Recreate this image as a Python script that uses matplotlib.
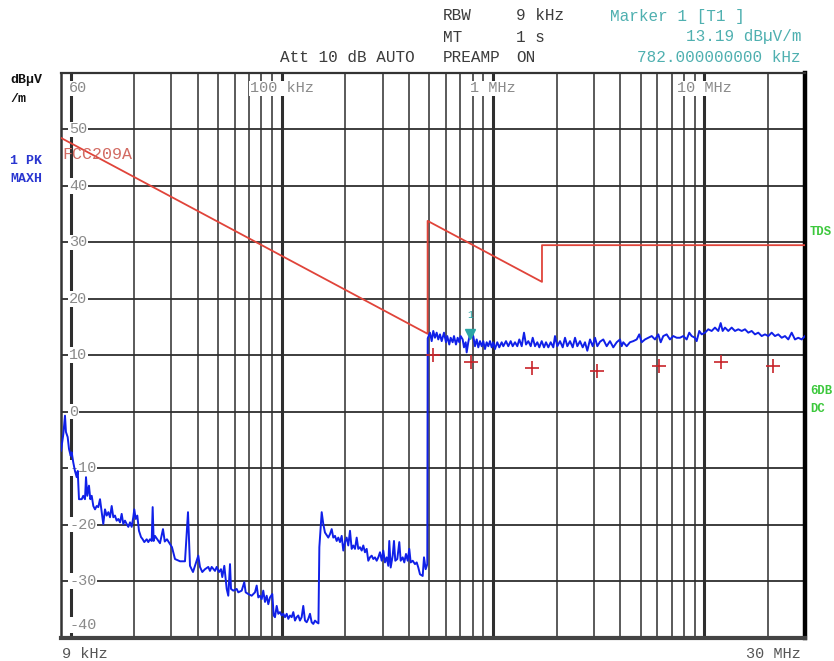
import matplotlib
matplotlib.use("Agg")
import matplotlib.pyplot as plt
import matplotlib.transforms as mtransforms

plt.rcParams['font.family'] = ['Liberation Mono', 'DejaVu Sans Mono']

# 1 PK MAXH trace (kHz, dBuV/m)
band1_khz = [9.00, 9.23, 9.40, 9.50, 9.68, 9.82, 10.00, 10.11, 10.29, 10.48, 10.68, 10.80,
             10.95, 11.28, 11.47, 11.69, 11.82, 11.99, 12.21, 12.39, 12.58, 12.80, 13.04,
             13.28, 13.51, 13.77, 14.03, 14.27, 14.54, 14.81, 15.08, 15.36, 15.64, 15.92,
             16.21, 16.51, 16.81, 17.13, 17.44, 17.75, 18.08, 18.42, 18.75, 19.10, 19.45,
             19.79, 20.01, 20.32, 20.68, 21.06, 21.53, 21.93, 22.32, 22.91, 23.31, 23.75,
             24.19, 24.45, 24.72, 25.07, 26.48, 27.36, 27.9, 28.58, 30.18, 31.19, 32.94,
             34.78, 35.94, 36.73, 37.95, 38.79, 40.21, 40.96, 42.00, 43.25, 44.84, 45.67,
             46.53, 48.24, 49.13, 50.39, 51.50, 52.23, 53.39, 54.81, 55.76, 56.82, 57.44,
             58.88, 61.11, 62.19, 64.54, 66.39, 67.41, 69.34, 71.96, 74.60, 76.00, 77.34,
             78.78, 80.26, 81.66, 83.20, 84.75, 86.25, 87.87, 90.10, 91.48, 92.78, 94.52,
             96.19, 97.97, 99.82, 101.6, 103.5, 105.4, 107.3, 109.3, 111.3, 113.3, 115.4,
             117.5, 119.6, 121.8, 124.1, 126.3, 128.7, 131.1, 133.4, 135.9, 138.4, 140.9,
             143.5, 146.2, 149.0]
band1_db = [-6.9, -4.0, -0.7, -3.6, -4.5, -6.6, -7.8, -7.2, -9.0, -10.5, -11.6, -10.5,
            -15.5, -15.5, -14.9, -15.5, -11.6, -14.9, -13.1, -15.5, -14.9, -16.7, -17.3,
            -16.7, -16.9, -15.5, -17.8, -19.9, -17.3, -18.4, -17.8, -18.7, -16.7, -18.7,
            -18.4, -19.3, -19.0, -19.6, -18.1, -19.9, -19.3, -19.9, -20.4, -19.6, -20.4,
            -18.7, -17.3, -19.0, -18.4, -21.1, -22.2, -22.6, -23.1, -22.6, -23.1, -22.6,
            -22.9, -16.9, -22.9, -22.0, -23.3, -20.8, -23.0, -22.6, -24.0, -26.1, -26.5,
            -26.5, -17.8, -27.3, -28.4, -27.3, -25.5, -27.5, -28.4, -27.9, -27.5, -28.2,
            -27.5, -28.2, -27.5, -28.4, -27.9, -29.3, -27.3, -31.4, -32.6, -27.0, -31.4,
            -31.7, -31.4, -32.0, -31.7, -30.2, -32.0, -32.3, -32.6, -32.0, -30.8, -32.9,
            -32.6, -33.2, -31.7, -33.7, -32.6, -34.1, -32.9, -32.3, -36.1, -36.4, -34.4,
            -35.8, -35.5, -36.1, -35.8, -36.4, -35.8, -36.7, -36.1, -36.4, -35.5, -37.0,
            -36.4, -36.1, -37.0, -36.4, -34.4, -37.0, -37.3, -36.7, -35.8, -37.3, -37.6,
            -37.0, -37.3, -37.5]

band2_khz = [150.5, 154.4, 157.1, 160.0, 165.9, 169.0, 172.2, 175.2, 178.5, 181.8, 185.0,
             188.5, 192.0, 195.4, 199.0, 202.7, 206.3, 210.2, 214.1, 217.9, 222.0, 226.1,
             230.1, 234.4, 238.8, 243.0, 247.5, 252.1, 256.6, 261.4, 266.3, 271.0, 276.0,
             281.2, 286.2, 291.5, 297.0, 302.2, 307.8, 313.6, 319.1, 322.6, 327.6, 334.8,
             339.6, 344.4, 352.0, 359.8, 365.3, 373.4, 380.0, 387.0, 394.3, 401.2, 407.4,
             416.4, 427.0, 435.0, 442.6, 450.9, 464.4, 471.0, 479.8, 488.3]
band2_db = [-24.0, -17.8, -19.9, -21.4, -22.3, -21.7, -20.8, -22.3, -22.0, -22.9, -22.3,
            -23.1, -22.0, -24.6, -23.1, -22.3, -23.7, -21.1, -24.3, -23.7, -24.3, -22.3,
            -24.3, -24.0, -24.6, -23.7, -24.9, -24.3, -26.4, -25.8, -25.5, -26.1, -25.8,
            -26.4, -25.8, -24.9, -26.4, -24.6, -26.7, -25.8, -27.3, -22.9, -27.6, -25.5,
            -22.9, -26.4, -26.1, -23.1, -26.4, -25.8, -26.7, -25.2, -26.4, -24.3, -26.7,
            -26.4, -27.0, -26.7, -27.6, -28.8, -29.1, -25.8, -27.9, -27.0]

band3_khz = [490.5, 502.8, 512.2, 521.2, 530.9, 540.8, 550.4, 560.7, 571.2, 585.7, 598.6,
             607.1, 620.5, 630.0, 643.9, 653.2, 667.5, 680.0, 692.0, 702.6, 718.1, 728.3,
             742.0, 750.1, 763.3, 777.6, 782.0, 806.1, 821.2, 836.6, 851.4, 867.3, 883.6,
             899.1, 915.9, 933.0, 949.5, 967.1, 985.2, 1002.5, 1021.2, 1047.1, 1070.3,
             1098.8, 1118.2, 1151.6, 1180.7, 1212.1, 1238.9, 1270.4, 1302.7, 1331.5,
             1366.8, 1401.5, 1432.5, 1468.9, 1507.9, 1541.0, 1580.2, 1620.3, 1656.2,
             1699.8, 1743.0, 1781.6, 1826.8, 1875.0, 1928.9, 1965.2, 2015.1, 2075.4,
             2137.2, 2191.5, 2247.2, 2314.4, 2383.6, 2444.2, 2506.3, 2580.7, 2657.9,
             2725.4, 2794.6, 2878.2, 2964.3, 3039.4, 3116.5, 3209.7, 3326.6, 3452.3,
             3578.6, 3709.5, 3849.6, 3990.4, 4065.5, 4136.4, 4292.6, 4449.6, 4613.4,
             4787.6, 4925.1, 5055.5, 5241.0, 5432.7, 5639.9, 5846.2, 6060.8, 6221.7,
             6397.4, 6639.0, 6882.0, 7134.7, 7404.1, 7675.0, 7956.0, 8256.5, 8493.7,
             8719.5, 9038.5, 9208.6, 9473.1, 9725.0, 10081, 10450, 10844, 11240, 11655,
             11963, 12227, 12538, 12996, 13487, 13983, 14495, 15043, 15593, 16163, 16773,
             17389, 18026, 18707, 19393, 20102, 20862, 21627, 22419, 23266, 24117, 25000,
             25942, 26893, 27878, 28929, 30000]
band3_db = [13.0, 14.0, 12.5, 14.3, 13.1, 14.0, 12.8, 13.7, 12.5, 14.0, 12.3,
            13.4, 11.9, 13.1, 12.3, 13.4, 11.9, 13.1, 12.3, 13.4, 12.8, 11.4,
            12.3, 10.5, 12.3, 13.7, 13.19, 13.4, 11.6, 12.8, 11.4, 12.5, 11.6,
            12.5, 11.1, 12.3, 11.6, 12.5, 11.4, 12.3, 11.1, 12.3, 11.4,
            12.3, 11.6, 12.5, 11.6, 12.5, 11.6, 12.3, 11.6, 12.8,
            11.6, 14.0, 11.9, 12.5, 11.6, 13.1, 11.6, 12.3, 11.4,
            12.5, 11.4, 12.3, 11.4, 12.3, 11.4, 13.4, 11.6, 12.5,
            11.4, 13.1, 11.6, 12.5, 11.4, 13.1, 11.6, 12.5, 11.4,
            12.3, 10.8, 12.8, 11.6, 13.1, 11.6, 12.4, 12.8, 11.6,
            12.5, 11.4, 12.3, 12.8, 11.6, 12.3, 11.6, 12.3, 12.5,
            12.8, 13.7, 12.3, 12.8, 13.1, 13.4, 12.8, 13.7, 12.3,
            13.4, 13.7, 12.8, 13.4, 13.1, 13.1, 13.4, 12.8, 14.0,
            13.4, 13.1, 12.5, 14.3, 13.7, 14.0, 14.6, 14.3, 14.9, 14.3,
            15.7, 14.3, 14.9, 14.3, 14.9, 14.3, 14.6, 14.3, 14.6, 14.0, 14.3,
            13.7, 14.0, 13.4, 13.7, 13.4, 14.0, 13.4, 13.7, 13.1, 13.4, 12.8,
            14.0, 12.8, 13.1, 12.8, 13.4]

trace_khz = band1_khz + band2_khz + band3_khz
trace_db = band1_db + band2_db + band3_db

# FCC 15.209 limit line
limit_khz = [9, 490, 490, 1705, 1705, 30000]
limit_db = [48.5, 13.8, 33.8, 23.0, 29.5, 29.5]

# final measurement points (+)
final_khz = [521, 789, 1536, 3120, 6140, 11950, 21100]
final_db = [10.0, 8.8, 7.7, 7.2, 8.1, 8.8, 8.1]

marker_khz = 782
marker_db = 13.19

level_labels = [60, 50, 40, 30, 20, 10, 0, -10, -20, -30, -40]
decade_labels = [(100, '100 kHz'), (1000, '1 MHz'), (10000, '10 MHz')]

W, H = 834, 661
fig = plt.figure(figsize=(W / 100, H / 100), dpi=100)
ax = fig.add_axes([61 / W, (H - 637.5) / H, 744 / W, 564.5 / H])
ax.set_xscale('log')
ax.set_xlim(9, 30000)
ax.set_ylim(-40, 60)
ax.set_xticks([])
ax.set_yticks([])
ax.minorticks_off()

grid_c = '#2e2e2e'
for dec in [10, 100, 1000, 10000]:
    for m in range(1, 10):
        f = m * dec
        if 9 < f < 30000:
            ax.axvline(f, color=grid_c, lw=2.2 if m == 1 else 1.1, zorder=1)
for v in level_labels[1:-1]:
    ax.axhline(v, color=grid_c, lw=1.3, zorder=1)

for side, lw, c in [('left', 1.8, '#333333'), ('bottom', 3.0, '#444444'),
                    ('right', 3.2, 'black'), ('top', 1.6, '#333333')]:
    ax.spines[side].set_linewidth(lw)
    ax.spines[side].set_color(c)

# level labels inside the grid
lab_c = '#8a8a8a'
box = dict(facecolor='white', edgecolor='none', pad=0.6)
ytr = mtransforms.blended_transform_factory(ax.transAxes, ax.transData)
for v in level_labels:
    if v == 60:
        ax.annotate(str(v), (0.011, v), xycoords=ytr, xytext=(0, -6), textcoords='offset points',
                    va='top', ha='left', fontsize=11, color=lab_c, bbox=box, zorder=4)
    elif v == -40:
        ax.annotate(str(v), (0.011, v), xycoords=ytr, xytext=(0, 4), textcoords='offset points',
                    va='bottom', ha='left', fontsize=11, color=lab_c, bbox=box, zorder=4)
    else:
        ax.text(0.011, v, str(v), transform=ytr, va='center', ha='left', fontsize=11,
                color=lab_c, bbox=box, zorder=4)

xtr = mtransforms.blended_transform_factory(ax.transData, ax.transAxes)
for f, txt in decade_labels:
    ax.annotate(txt, (f, 1), xycoords=xtr, xytext=(0, -6), textcoords='offset points',
                va='top', ha='center', fontsize=11, color=lab_c, bbox=box, zorder=4)

# data
ax.plot(limit_khz, limit_db, color='#e0443a', lw=1.3, zorder=5)
ax.plot(trace_khz, trace_db, color='#1020e8', lw=1.4, zorder=6)
ax.plot(final_khz, final_db, ls='none', marker='+', ms=10, mew=1.2, color='#c8242a', zorder=7)

mk_tr = mtransforms.offset_copy(ax.transData, fig=fig, y=3, units='dots')
ax.plot([marker_khz], [marker_db], marker='v', ms=7, color='#2aa6a6', ls='none',
        transform=mk_tr, zorder=8)
ax.annotate('1', (marker_khz, marker_db), xytext=(0, 16), textcoords='offset points',
            ha='center', va='center', fontsize=7, color='#2aa6a6', zorder=8)

ax.text(9.1, 45.5, 'FCC209A', fontsize=12, color='#d26a62', va='center', ha='left', zorder=6)


def ftext(px, py, s, **kw):
    fig.text(px / W, 1 - py / H, s, va='center', **kw)


hdr = '#3c3c3c'
teal = '#4fb0b0'
ftext(280, 57, 'Att 10 dB AUTO', fontsize=11.5, color=hdr)
ftext(443, 16, 'RBW', fontsize=11.5, color=hdr)
ftext(516, 16, '9 kHz', fontsize=11.5, color=hdr)
ftext(443, 37, 'MT', fontsize=11.5, color=hdr)
ftext(516, 37, '1 s', fontsize=11.5, color=hdr)
ftext(443, 57, 'PREAMP', fontsize=11.5, color=hdr)
ftext(516, 57, 'ON', fontsize=11.5, color=hdr)
ftext(610, 16, 'Marker 1 [T1 ]', fontsize=11.5, color=teal)
ftext(801, 37, '%.2f dBµV/m' % marker_db, fontsize=11.5, color=teal, ha='right')
ftext(801, 57, '%.9f kHz' % marker_khz, fontsize=11.5, color=teal, ha='right')

ftext(10, 80, 'dBµV', fontsize=9.5, weight='bold', color='#111111')
ftext(10, 99, '/m', fontsize=9.5, weight='bold', color='#111111')
ftext(10, 161, '1 PK', fontsize=9.5, weight='bold', color='#2a36d0')
ftext(10, 179, 'MAXH', fontsize=9.5, weight='bold', color='#2a36d0')

green = '#3cc83c'
ftext(810, 232, 'TDS', fontsize=8.8, weight='bold', color=green)
ftext(810, 391, '6DB', fontsize=8.8, weight='bold', color=green)
ftext(810, 409, 'DC', fontsize=8.8, weight='bold', color=green)

ftext(62, 654, '9 kHz', fontsize=11, color='#555555')
ftext(801, 654, '30 MHz', fontsize=11, color='#555555', ha='right')

fig.savefig('out.png', dpi=100)
